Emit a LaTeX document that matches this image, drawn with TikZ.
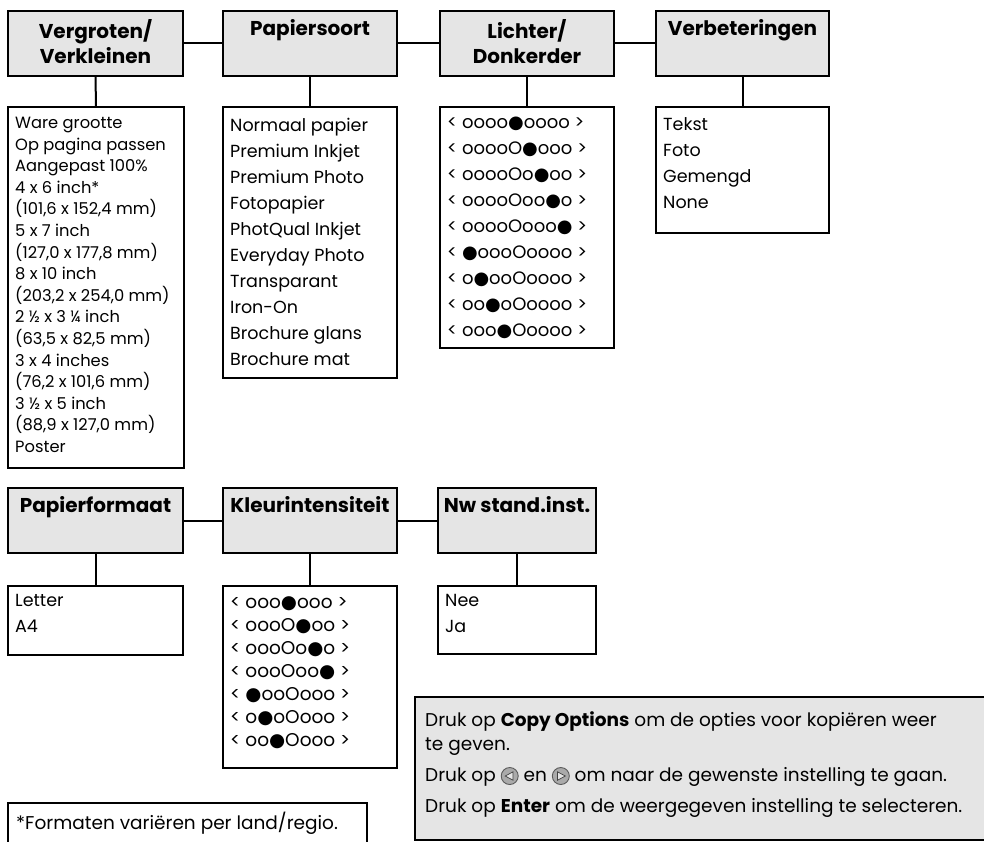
\documentclass[tikz,border=0pt]{standalone}
\usepackage{fontspec}
\setmainfont{Poppins}
\newfontfamily\dejavu{DejaVu Sans}
\definecolor{boxgray}{RGB}{229,229,229}
\definecolor{btnfill}{RGB}{170,170,170}
\definecolor{btnedge}{RGB}{90,90,90}
\newcommand{\bd}{{\dejavu\char"25CF}}
\newcommand{\btnL}{\tikz[baseline=-5pt,x=1pt,y=1pt]{\path[draw=btnedge,fill=btnfill,line width=0.9pt] (0,0) circle (8.5);\path[draw=black!75,fill=boxgray,line width=0.7pt] (-4.5,0) -- (3.3,4.2) -- (3.3,-4.2) -- cycle;}}
\newcommand{\btnR}{\tikz[baseline=-5pt,x=1pt,y=1pt]{\path[draw=btnedge,fill=btnfill,line width=0.9pt] (0,0) circle (8.5);\path[draw=black!75,fill=boxgray,line width=0.7pt] (4.5,0) -- (-3.3,4.2) -- (-3.3,-4.2) -- cycle;}}
\begin{document}
\begin{tikzpicture}[x=1pt,y=-1pt,
  hdr/.style={draw, line width=2.4pt, fill=boxgray, anchor=north west, inner sep=0pt, outer sep=0pt, minimum height=65pt},
  lst/.style={draw, line width=2.4pt, fill=white, anchor=north west, inner sep=0pt, outer sep=0pt},
  hdrtxt/.style={anchor=north, inner sep=0pt, align=center, font=\bfseries\fontsize{20}{25}\selectfont},
  lsttxt/.style={anchor=north west, inner sep=0pt, align=left, font=\fontsize{17.5}{26}\selectfont},
  smalltxt/.style={anchor=north west, inner sep=0pt, align=left, font=\fontsize{16.3}{21.6}\selectfont},
  lvltxt/.style={anchor=north west, inner sep=0pt, align=left, font=\fontsize{18}{26}\selectfont},
  conn/.style={line width=2pt}]
\useasboundingbox (0,0) rectangle (984,842);
% ---- top row headers
\node[hdr, minimum width=175pt] (h1) at (8,11) {};
\node[hdr, minimum width=174pt] (h2) at (223,11) {};
\node[hdr, minimum width=174pt] (h3) at (440,11) {};
\node[hdr, minimum width=173pt] (h4) at (656,11) {};
\node[hdrtxt] (h1t) at ([yshift=-8pt]h1.north) {Vergroten/\\Verkleinen};
\node[hdrtxt] (h2t) at ([yshift=-8pt]h2.north) {Papiersoort};
\node[hdrtxt] (h3t) at ([yshift=-8pt]h3.north) {Lichter/\\Donkerder};
\node[hdrtxt] (h4t) at ([yshift=-8pt]h4.north) {Verbeteringen};
% ---- top row lists
\node[lst, minimum width=176pt, minimum height=361pt] (l1) at (8,107) {};
\node[lst, minimum width=174pt, minimum height=271pt] (l2) at (223,107) {};
\node[lst, minimum width=174pt, minimum height=241pt] (l3) at (440,107) {};
\node[lst, minimum width=173pt, minimum height=126pt] (l4) at (656,107) {};
\node[smalltxt] (l1t) at ([xshift=7pt,yshift=-10pt]l1.north west) {Ware grootte\\Op pagina passen\\Aangepast 100\%\\4 x 6 inch*\\(101,6 x 152,4 mm)\\5 x 7 inch\\(127,0 x 177,8 mm)\\8 x 10 inch\\(203,2 x 254,0 mm)\\2 ½ x 3 ¼ inch\\(63,5 x 82,5 mm)\\3 x 4 inches\\(76,2 x 101,6 mm)\\3 ½ x 5 inch\\(88,9 x 127,0 mm)\\Poster};
\node[lsttxt] (l2t) at ([xshift=7pt,yshift=-10.5pt]l2.north west) {Normaal papier\\Premium Inkjet\\Premium Photo\\Fotopapier\\PhotQual Inkjet\\Everyday Photo\\Transparant\\Iron-On\\Brochure glans\\Brochure mat};
\node[lvltxt] (l3t) at ([xshift=7pt,yshift=-10pt]l3.north west) {< oooo\bd oooo >\\< ooooO\bd ooo >\\< ooooOo\bd oo >\\< ooooOoo\bd o >\\< ooooOooo\bd{} >\\< \bd oooOoooo >\\< o\bd ooOoooo >\\< oo\bd oOoooo >\\< ooo\bd Ooooo >};
\node[lsttxt] (l4t) at ([xshift=7pt,yshift=-10.5pt]l4.north west) {Tekst\\Foto\\Gemengd\\None};
% ---- top row connectors
\draw[conn] (h1) -- (h2);
\draw[conn] (h2) -- (h3);
\draw[conn] (h3) -- (h4);
\draw[conn] (h1.south) -- (l1.north);
\draw[conn] (h2.south) -- (l2.north);
\draw[conn] (h3.south) -- (l3.north);
\draw[conn] (h4.south) -- (l4.north);
% ---- second row headers
\node[hdr, minimum width=175pt] (h5) at (8,488) {};
\node[hdr, minimum width=174pt] (h6) at (223,488) {};
\node[hdr, minimum width=158pt] (h7) at (438,488) {};
\node[hdrtxt] (h5t) at ([yshift=-8pt]h5.north) {Papierformaat};
\node[hdrtxt] (h6t) at ([yshift=-8pt]h6.north) {Kleurintensiteit};
\node[hdrtxt] (h7t) at ([yshift=-8pt]h7.north) {Nw stand.inst.};
% ---- second row lists
\node[lst, minimum width=175pt, minimum height=69pt] (l5) at (8,586) {};
\node[lst, minimum width=174pt, minimum height=182pt] (l6) at (223,586) {};
\node[lst, minimum width=158pt, minimum height=68pt] (l7) at (438,586) {};
\node[lsttxt] (l5t) at ([xshift=7pt,yshift=-8.5pt]l5.north west) {Letter\\A4};
\node[lvltxt, font=\fontsize{18.5}{23}\selectfont] (l6t) at ([xshift=7pt,yshift=-10pt]l6.north west) {< ooo\bd ooo >\\< oooO\bd oo >\\< oooOo\bd o >\\< oooOoo\bd{} >\\< \bd ooOooo >\\< o\bd oOooo >\\< oo\bd Oooo >};
\node[lsttxt] (l7t) at ([xshift=7pt,yshift=-8.5pt]l7.north west) {Nee\\Ja};
\draw[conn] (h5) -- (h6);
\draw[conn] (h6) -- (h7);
\draw[conn] (h5.south) -- (l5.north);
\draw[conn] (h6.south) -- (l6.north);
\draw[conn] (h7.south) -- (l7.north);
% ---- footnote
\node[lst, minimum width=359pt, minimum height=46pt] (fn) at (8,803) {};
\node[smalltxt, font=\fontsize{18.5}{20}\selectfont] (fnt) at ([xshift=8pt,yshift=-9pt]fn.north west) {*Formaten variëren per land/regio.};
% ---- instructions
\node[hdr, minimum width=580pt, minimum height=143pt] (ins) at (415,697) {};
\node[anchor=north west, inner sep=0pt, align=left, font=\fontsize{18.5}{24}\selectfont] (inst) at ([xshift=10pt,yshift=-14pt]ins.north west) {Druk op \textbf{Copy Options} om de opties voor kopiëren weer\\te geven.\\[7pt]Druk op \btnL{} en \btnR{} om naar de gewenste instelling te gaan.\\[7pt]Druk op \textbf{Enter} om de weergegeven instelling te selecteren.};
\end{tikzpicture}
\end{document}
